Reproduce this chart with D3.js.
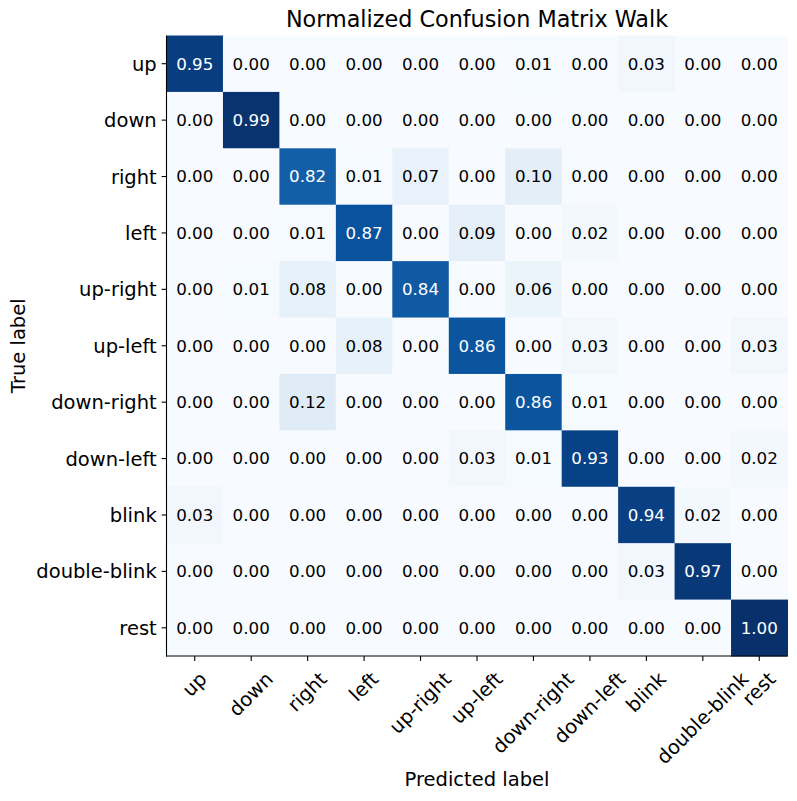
<!DOCTYPE html>
<html>
<head>
<meta charset="utf-8">
<script src="https://cdn.jsdelivr.net/npm/d3@7"></script>
<style>
    body { margin: 0; background: #fff; }
    text { font-family: 'DejaVu Sans', sans-serif; }
</style>
</head>
<body>
<div id="confusion-matrix"></div>
<script>
'use strict';

// class names, used for both axes
var class_labels = ['up', 'down', 'right', 'left', 'up-right', 'up-left',
    'down-right', 'down-left', 'blink', 'double-blink', 'rest'];

// normalized values, one row per true label
var matrix_rows = [
    [0.95, 0.00, 0.00, 0.00, 0.00, 0.00, 0.01, 0.00, 0.03, 0.00, 0.00],
    [0.00, 0.99, 0.00, 0.00, 0.00, 0.00, 0.00, 0.00, 0.00, 0.00, 0.00],
    [0.00, 0.00, 0.82, 0.01, 0.07, 0.00, 0.10, 0.00, 0.00, 0.00, 0.00],
    [0.00, 0.00, 0.01, 0.87, 0.00, 0.09, 0.00, 0.02, 0.00, 0.00, 0.00],
    [0.00, 0.01, 0.08, 0.00, 0.84, 0.00, 0.06, 0.00, 0.00, 0.00, 0.00],
    [0.00, 0.00, 0.00, 0.08, 0.00, 0.86, 0.00, 0.03, 0.00, 0.00, 0.03],
    [0.00, 0.00, 0.12, 0.00, 0.00, 0.00, 0.86, 0.01, 0.00, 0.00, 0.00],
    [0.00, 0.00, 0.00, 0.00, 0.00, 0.03, 0.01, 0.93, 0.00, 0.00, 0.02],
    [0.03, 0.00, 0.00, 0.00, 0.00, 0.00, 0.00, 0.00, 0.94, 0.02, 0.00],
    [0.00, 0.00, 0.00, 0.00, 0.00, 0.00, 0.00, 0.00, 0.03, 0.97, 0.00],
    [0.00, 0.00, 0.00, 0.00, 0.00, 0.00, 0.00, 0.00, 0.00, 0.00, 1.00]
];

var title_text = 'Normalized Confusion Matrix Walk';
var x_title = 'Predicted label';
var y_title = 'True label';

// matplotlib "Blues"
var blues = ['#f7fbff', '#deebf7', '#c6dbef', '#9ecae1', '#6baed6',
    '#4292c6', '#2171b5', '#08519c', '#08306b'];

var svg_w = 797,
    svg_h = 801,
    plot_left = 166.5,
    plot_right = 787.5,
    plot_top = 35.5,
    plot_bottom = 656,
    tick_len = 4.9,
    tick_pad = 4.9;

var svg = d3.select('#confusion-matrix')
    .append('svg')
    .attr('width', svg_w)
    .attr('height', svg_h);

var x = d3.scaleBand().domain(class_labels).range([plot_left, plot_right]);
var y = d3.scaleBand().domain(class_labels).range([plot_top, plot_bottom]);

var max_val = d3.max(matrix_rows, function(r) { return d3.max(r); });
var min_val = d3.min(matrix_rows, function(r) { return d3.min(r); });
var color = d3.scaleLinear()
    .domain(blues.map(function(c, i) { return min_val + (max_val - min_val) * i / (blues.length - 1); }))
    .range(blues)
    .interpolate(d3.interpolateRgb);

var cells = [];
matrix_rows.forEach(function(row, i) {
    row.forEach(function(v, j) {
        cells.push({ t: class_labels[i], p: class_labels[j], v: v });
    });
});

svg.append('g').selectAll('rect')
    .data(cells)
    .enter()
    .append('rect')
    .attr('x', function(d) { return x(d.p); })
    .attr('y', function(d) { return y(d.t); })
    .attr('width', x.bandwidth() + 0.5)
    .attr('height', y.bandwidth() + 0.5)
    .attr('fill', function(d) { return color(d.v); });

var thresh = max_val / 2;
svg.append('g').selectAll('text')
    .data(cells)
    .enter()
    .append('text')
    .attr('x', function(d) { return x(d.p) + x.bandwidth() / 2; })
    .attr('y', function(d) { return y(d.t) + y.bandwidth() / 2; })
    .attr('text-anchor', 'middle')
    .attr('dy', '0.35em')
    .style('font-size', '16.7px')
    .attr('fill', function(d) { return d.v > thresh ? '#ffffff' : '#000000'; })
    .text(function(d) { return d.v.toFixed(2); });

// y axis
var y_axis = svg.append('g')
    .attr('transform', 'translate(' + plot_left + ',0)')
    .call(d3.axisLeft(y).tickSize(tick_len).tickPadding(tick_pad));
y_axis.select('.domain').remove();
y_axis.selectAll('.tick line').attr('stroke', '#000').attr('stroke-width', 1.1);
y_axis.selectAll('.tick text')
    .style('font-size', '19.5px')
    .style('font-family', "'DejaVu Sans', sans-serif")
    .attr('fill', '#000')
    .attr('dy', '0.36em');

// x axis, labels rotated 45deg and centred on the tick like matplotlib
var x_axis = svg.append('g')
    .attr('transform', 'translate(0,' + plot_bottom + ')')
    .call(d3.axisBottom(x).tickSize(tick_len).tickPadding(tick_pad));
x_axis.select('.domain').remove();
x_axis.selectAll('.tick line').attr('stroke', '#000').attr('stroke-width', 1.1);
x_axis.selectAll('.tick text')
    .style('font-size', '19.5px')
    .style('font-family', "'DejaVu Sans', sans-serif")
    .attr('fill', '#000')
    .attr('text-anchor', 'middle')
    .attr('dy', '0.32em')
    .each(function() {
        var w = this.getComputedTextLength(),
            h = 19.5 * 1.164,
            side = (w + h) * Math.SQRT1_2,
            cy = tick_len + tick_pad + 2 + side / 2;
        d3.select(this)
            .attr('y', 0)
            .attr('transform', 'translate(0,' + cy + ') rotate(-45)');
    });

// spines: left and bottom only
svg.append('line')
    .attr('x1', plot_left).attr('x2', plot_left)
    .attr('y1', plot_top).attr('y2', plot_bottom + 0.55)
    .attr('stroke', '#000').attr('stroke-width', 1.1);
svg.append('line')
    .attr('x1', plot_left - 0.55).attr('x2', plot_right)
    .attr('y1', plot_bottom).attr('y2', plot_bottom)
    .attr('stroke', '#000').attr('stroke-width', 1.1);

svg.append('text')
    .attr('x', (plot_left + plot_right) / 2)
    .attr('y', 27.2)
    .attr('text-anchor', 'middle')
    .style('font-size', '22.3px')
    .text(title_text);

svg.append('text')
    .attr('x', (plot_left + plot_right) / 2)
    .attr('y', 786)
    .attr('text-anchor', 'middle')
    .style('font-size', '19.5px')
    .text(x_title);

svg.append('text')
    .attr('transform', 'translate(25,' + (plot_top + plot_bottom) / 2 + ') rotate(-90)')
    .attr('text-anchor', 'middle')
    .style('font-size', '19.5px')
    .text(y_title);
</script>
</body>
</html>
